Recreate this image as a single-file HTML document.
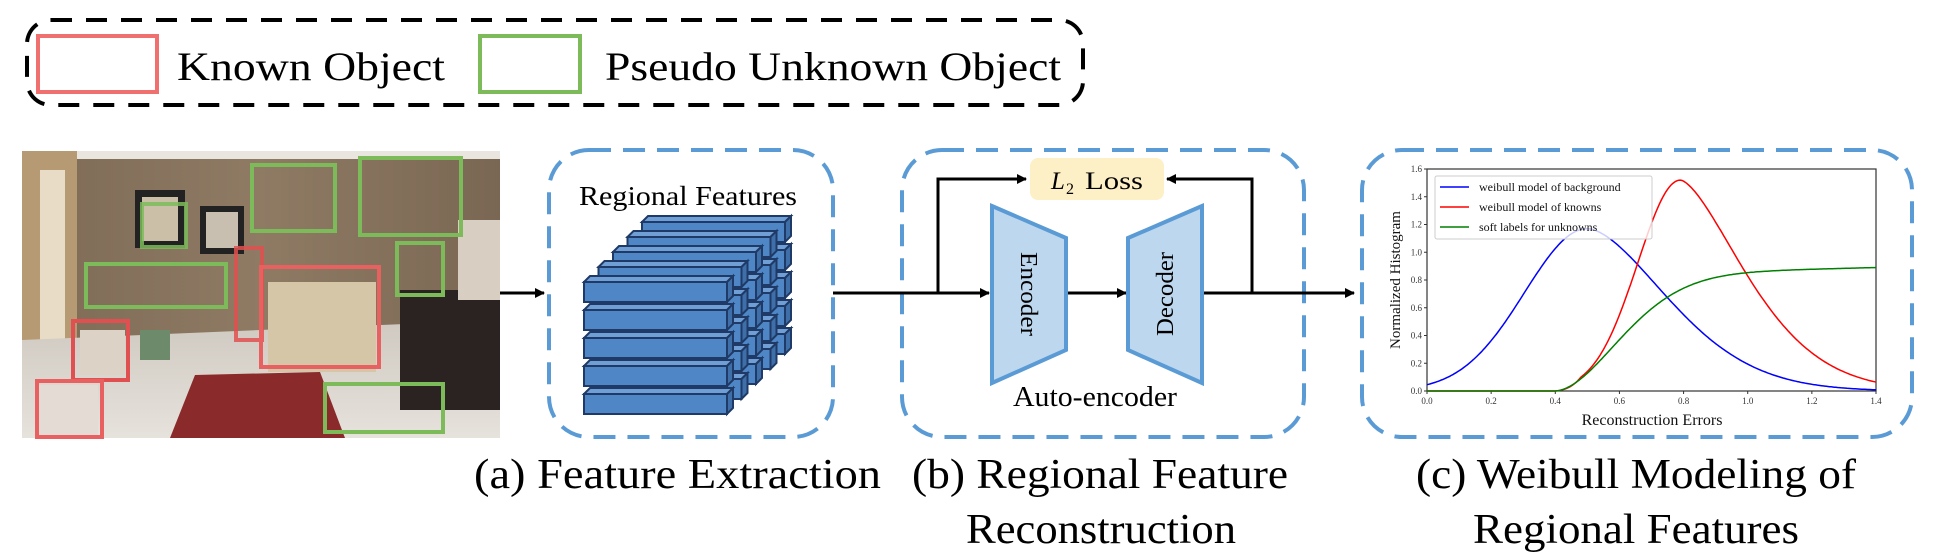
<!DOCTYPE html>
<html><head><meta charset="utf-8"><style>
html,body{margin:0;padding:0;background:#fff;}
svg{display:block;}
text{font-family:"Liberation Serif","Times New Roman",serif;}
</style></head><body>
<svg id="s" width="1935" height="558" viewBox="0 0 1935 558" xmlns="http://www.w3.org/2000/svg">
<defs>
<marker id="ah" markerWidth="10" markerHeight="10" refX="9" refY="5" orient="auto" markerUnits="userSpaceOnUse">
<path d="M0,0 L10,5 L0,10 z" fill="#000"/></marker>
<linearGradient id="wall" x1="0" y1="0" x2="1" y2="0"><stop offset="0" stop-color="#7d6a55"/><stop offset="0.5" stop-color="#8f7b64"/><stop offset="1" stop-color="#7a6753"/></linearGradient>
<linearGradient id="floor" x1="0" y1="0" x2="0" y2="1"><stop offset="0" stop-color="#cfc9c0"/><stop offset="1" stop-color="#e6e2dc"/></linearGradient>
</defs>

<!-- legend -->
<rect x="27" y="20" width="1056" height="85" rx="24" fill="none" stroke="#000" stroke-width="4" stroke-dasharray="21 14"/>
<rect x="38" y="36" width="119" height="56" fill="none" stroke="#f07070" stroke-width="4"/>
<text x="177" y="80" font-size="40" textLength="268" lengthAdjust="spacingAndGlyphs">Known Object</text>
<rect x="480" y="36" width="100" height="56" fill="none" stroke="#7dbb5a" stroke-width="4"/>
<text x="605" y="80" font-size="40" textLength="456" lengthAdjust="spacingAndGlyphs">Pseudo Unknown Object</text>

<!-- photo -->
<g>
<rect x="22" y="151" width="478" height="287" fill="url(#wall)"/>
<rect x="22" y="151" width="478" height="8" fill="#e9e6e0"/>
<rect x="22" y="151" width="55" height="287" fill="#b59a74"/>
<rect x="40" y="170" width="25" height="200" fill="#e8dcc6"/>
<polygon points="22,340 500,320 500,438 22,438" fill="url(#floor)"/>
<polygon points="195,375 320,372 345,438 170,438" fill="#8a2a2a"/>
<rect x="400" y="290" width="100" height="120" fill="#2a2322"/>
<rect x="458" y="220" width="42" height="80" fill="#d8cfc2"/>
<rect x="135" y="190" width="50" height="58" fill="#222"/><rect x="142" y="197" width="36" height="44" fill="#cbbfa8"/>
<rect x="200" y="206" width="44" height="48" fill="#222"/><rect x="206" y="212" width="32" height="36" fill="#c9bfb0"/>
<rect x="268" y="282" width="108" height="90" fill="#d6c6a8"/>
<rect x="80" y="330" width="45" height="45" fill="#dcd2c6"/>
<rect x="38" y="385" width="60" height="50" fill="#e4dcd4"/>
<rect x="140" y="330" width="30" height="30" fill="#6d8a6a"/>
</g>
<g fill="none" stroke-width="4">
<rect x="252" y="165" width="83" height="66" stroke="#7dbb5a"/>
<rect x="360" y="158" width="101" height="77" stroke="#7dbb5a"/>
<rect x="142" y="204" width="44" height="43" stroke="#7dbb5a" stroke-opacity="0.85"/>
<rect x="86" y="264" width="140" height="43" stroke="#7dbb5a"/>
<rect x="397" y="243" width="46" height="52" stroke="#7dbb5a"/>
<rect x="325" y="384" width="118" height="48" stroke="#7dbb5a"/>
<rect x="236" y="248" width="26" height="92" stroke="#e05050" stroke-opacity="0.85"/>
<rect x="261" y="267" width="118" height="100" stroke="#e86060"/>
<rect x="73" y="321" width="55" height="59" stroke="#e05050"/>
<rect x="37" y="381" width="65" height="56" stroke="#e86060"/>
</g>

<!-- boxes -->
<g fill="none" stroke="#5b9bd5" stroke-width="4" stroke-dasharray="22 12">
<rect x="549" y="150" width="284" height="287" rx="40"/>
<rect x="902" y="150" width="402" height="287" rx="40"/>
<rect x="1362" y="150" width="550" height="287" rx="40"/>
</g>

<!-- arrows -->
<g stroke="#000" stroke-width="3" fill="none">
<line x1="500" y1="293" x2="544" y2="293" marker-end="url(#ah)"/>
<line x1="833" y1="293" x2="989" y2="293" marker-end="url(#ah)"/>
<polyline points="938,293 938,179 1026,179" marker-end="url(#ah)"/>
<line x1="1066" y1="293" x2="1126" y2="293" marker-end="url(#ah)"/>
<line x1="1202" y1="293" x2="1354" y2="293" marker-end="url(#ah)"/>
<polyline points="1252,293 1252,179 1167,179" marker-end="url(#ah)"/>
</g>

<!-- Regional features -->
<text x="688" y="205" font-size="27" text-anchor="middle" textLength="218" lengthAdjust="spacingAndGlyphs">Regional Features</text>
<g id="bars"></g>

<!-- L2 loss -->
<rect x="1030" y="158" width="134" height="42" rx="8" fill="#fdf0c6"/>
<text x="1051" y="189" font-size="25" font-style="italic">L</text>
<text x="1066" y="194" font-size="16">2</text>
<text x="1085" y="189" font-size="25" textLength="58" lengthAdjust="spacingAndGlyphs">Loss</text>

<!-- encoder/decoder -->
<polygon points="992,206 1066,238 1066,350 992,383" fill="#bdd7ee" stroke="#5b9bd5" stroke-width="4"/>
<polygon points="1202,206 1128,238 1128,350 1202,383" fill="#bdd7ee" stroke="#5b9bd5" stroke-width="4"/>
<text transform="translate(1021,294) rotate(90)" font-size="24" text-anchor="middle" textLength="84" lengthAdjust="spacingAndGlyphs">Encoder</text>
<text transform="translate(1173,294) rotate(-90)" font-size="24" text-anchor="middle" textLength="84" lengthAdjust="spacingAndGlyphs">Decoder</text>
<text x="1095" y="406" font-size="28" text-anchor="middle" textLength="164" lengthAdjust="spacingAndGlyphs">Auto-encoder</text>

<!-- plot -->
<g id="plot"></g>

<!-- captions -->
<text x="474" y="488" font-size="42" textLength="407" lengthAdjust="spacingAndGlyphs">(a)  Feature Extraction</text>
<text x="912" y="488" font-size="42" textLength="376" lengthAdjust="spacingAndGlyphs">(b) Regional Feature</text>
<text x="966" y="543" font-size="42" textLength="270" lengthAdjust="spacingAndGlyphs">Reconstruction</text>
<text x="1416" y="488" font-size="42" textLength="440" lengthAdjust="spacingAndGlyphs">(c) Weibull Modeling of</text>
<text x="1473" y="543" font-size="42" textLength="326" lengthAdjust="spacingAndGlyphs">Regional Features</text>
</svg>
<script>
var NS="http://www.w3.org/2000/svg";
function el(p,t,a){var e=document.createElementNS(NS,t);for(var k in a)e.setAttribute(k,a[k]);p.appendChild(e);return e;}
var g=document.getElementById('bars');
for(var k=0;k<5;k++){for(var r=0;r<5;r++){
 var x=642-14.5*k, y=222+28*r+15*k, w=143, h=20, d=6;
 el(g,'polygon',{points:(x)+','+(y)+' '+(x+d)+','+(y-d)+' '+(x+w+d)+','+(y-d)+' '+(x+w)+','+y,fill:'#6f9fd4',stroke:'#1f3a66','stroke-width':2});
 el(g,'polygon',{points:(x+w)+','+y+' '+(x+w+d)+','+(y-d)+' '+(x+w+d)+','+(y+h-d)+' '+(x+w)+','+(y+h),fill:'#3f6fa8',stroke:'#1f3a66','stroke-width':2});
 el(g,'rect',{x:x,y:y,width:w,height:h,fill:'#4f86c6',stroke:'#1f3a66','stroke-width':2});
}}
var p=document.getElementById('plot');
var X0=1427,X1=1876,Y0=391,Y1=169;
function px(v){return X0+(X1-X0)*v/1.4;} function py(v){return Y0-(Y0-Y1)*v/1.6;}
el(p,'rect',{x:X0,y:Y1,width:X1-X0,height:Y0-Y1,fill:'none',stroke:'#333','stroke-width':1.2});
for(var i=0;i<=8;i++){var v=i*0.2;el(p,'line',{x1:X0-3,x2:X0,y1:py(v),y2:py(v),stroke:'#333'});var t=el(p,'text',{x:X0-5,y:py(v)+3,'font-size':9,'text-anchor':'end',fill:'#333'});t.textContent=v.toFixed(1);}
for(var i=0;i<=7;i++){var v=i*0.2;el(p,'line',{x1:px(v),x2:px(v),y1:Y0,y2:Y0+3,stroke:'#333'});var t=el(p,'text',{x:px(v),y:Y0+13,'font-size':9,'text-anchor':'middle',fill:'#333'});t.textContent=v.toFixed(1);}
function blue(x){return x<0.5?1.17*Math.exp(-Math.pow((x-0.5)/0.196,2)/2):1.17*Math.exp(-Math.pow((x-0.5)/0.354,1.7));}
function red(x){if(x<0.4)return 0;var v=x<0.79?1.52*Math.exp(-Math.pow((x-0.79)/0.133,2)/2):1.52*Math.exp(-Math.pow((x-0.79)/0.29,1.55));return v*Math.min(1,(x-0.4)/0.08);}
function green(x){if(x<0.4)return 0;return 0.83*(1-Math.exp(-Math.pow((x-0.4)/0.274,1.82)))+0.06*(x-0.4);}
[[blue,'#0000ff'],[red,'#ff0000'],[green,'#008000']].forEach(function(c){var s='';for(var i=0;i<=280;i++){var x=1.4*i/280;s+=(i?'L':'M')+px(x).toFixed(1)+','+py(c[0](x)).toFixed(1);}el(p,'path',{d:s,fill:'none',stroke:c[1],'stroke-width':1.5});});
el(p,'rect',{x:1435,y:176,width:217,height:63,fill:'#fff','fill-opacity':0.8,stroke:'#ccc','stroke-width':1,rx:2});
[['weibull model of background','#0000ff',191],['weibull model of knowns','#ff0000',211],['soft labels for unknowns','#008000',231]].forEach(function(l){el(p,'line',{x1:1440,x2:1469,y1:l[2]-4,y2:l[2]-4,stroke:l[1],'stroke-width':1.5});var t=el(p,'text',{x:1479,y:l[2],'font-size':12,fill:'#111'});t.textContent=l[0];});
var t=el(p,'text',{x:1652,y:425,'font-size':16,'text-anchor':'middle',fill:'#111'});t.textContent='Reconstruction Errors';
t=el(p,'text',{transform:'translate(1400,280) rotate(-90)','font-size':15,'text-anchor':'middle',fill:'#111'});t.textContent='Normalized Histogram';
</script>
</body></html>
